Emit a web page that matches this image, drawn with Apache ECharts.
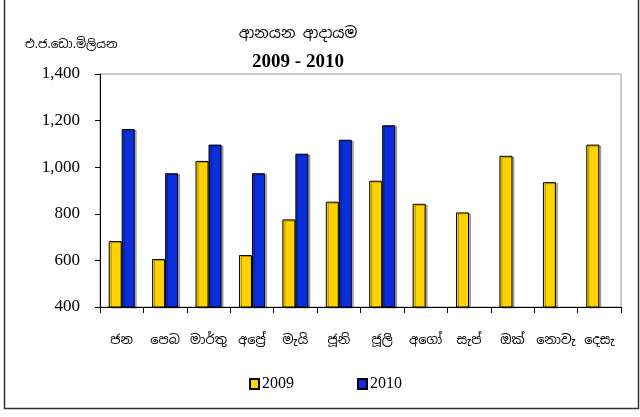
<!DOCTYPE html>
<html>
<head>
<meta charset="utf-8">
<script src="https://cdn.jsdelivr.net/npm/echarts@6/dist/echarts.min.js"></script>
<style>
  html, body { margin: 0; padding: 0; background: #fff; }
  #chartDiv { width: 640px; height: 417px; }
</style>
</head>
<body>
<div id="chartDiv"></div>
<script>
// මාස (categories)
var months = ['ජන', 'පෙබ', 'මාර්තු', 'අප්‍රේ', 'මැයි', 'ජූනි', 'ජූලි', 'අගෝ', 'සැප්', 'ඔක්', 'නොවැ', 'දෙසැ'];
// ආනයන ආදායම - එ.ජ.ඩො.මිලියන
var imp2009 = [683, 606, 1027, 623, 776, 852, 942, 843, 806, 1049, 936, 1097];
var imp2010 = [1164, 974, 1097, 974, 1058, 1118, 1180, null, null, null, null, null];
var yTicks = [400, 600, 800, 1000, 1200, 1400];

var serif = '"Liberation Serif", "Times New Roman", serif';
var sinhala = '"Noto Sans Sinhala", "Iskoola Pota", sans-serif';

var myChart = echarts.init(document.getElementById('chartDiv'));

var barStyle = function (color) {
    return {
        color: color,
        borderColor: '#000',
        borderWidth: 1,
        shadowColor: 'rgba(0,0,0,0.3)',
        shadowOffsetX: 2,
        shadowOffsetY: 1,
        shadowBlur: 0
    };
};

var option = {
    backgroundColor: '#fff',
    animation: false,
    title: [{
        text: 'ආනයන ආදායම',
        left: 293,
        top: 21,
        textAlign: 'center',
        textStyle: { fontFamily: sinhala, fontSize: 15, fontWeight: 'normal', color: '#000' }
    }, {
        text: '2009 - 2010',
        left: 293,
        top: 48,
        textAlign: 'center',
        textStyle: { fontFamily: serif, fontSize: 19, fontWeight: 'bold', color: '#000' }
    }],
    legend: {
        left: 244,
        top: 371,
        itemWidth: 9,
        itemHeight: 10,
        itemGap: 63,
        icon: 'rect',
        textStyle: { fontFamily: serif, fontSize: 16, color: '#000', padding: [0, 0, 0, -2] },
        data: ['2009', '2010']
    },
    graphic: [{
        type: 'rect',
        shape: { x: 4.5, y: -5, width: 634, height: 413.5 },
        style: { fill: null, stroke: '#333', lineWidth: 1.5 },
        silent: true
    }, {
        type: 'text',
        left: 25,
        top: 39,
        style: { text: 'එ.ජ.ඩො.මිලියන', font: '12px ' + sinhala, fill: '#000' }
    }],
    grid: {
        left: 100,
        right: 19,
        top: 74,
        bottom: 110,
        show: true,
        borderColor: '#999',
        borderWidth: 1
    },
    xAxis: {
        type: 'category',
        data: months,
        axisLine: { lineStyle: { color: '#000', width: 1 } },
        axisTick: { show: true, alignWithLabel: false, length: 6, lineStyle: { color: '#000' } },
        axisLabel: { interval: 0, margin: 27, fontFamily: sinhala, fontSize: 13, color: '#000' }
    },
    yAxis: {
        type: 'value',
        min: yTicks[0],
        max: yTicks[yTicks.length - 1],
        interval: 200,
        axisLine: { show: true, lineStyle: { color: '#000', width: 1 } },
        axisTick: { show: true, length: 5, lineStyle: { color: '#000' } },
        splitLine: { show: false },
        axisLabel: {
            margin: 20,
            fontFamily: serif,
            fontSize: 17,
            color: '#000',
            formatter: function (v) { return v.toLocaleString('en-US'); }
        }
    },
    series: [{
        name: '2009',
        type: 'bar',
        data: imp2009,
        barWidth: 13,
        barGap: '0%',
        itemStyle: barStyle('#FFD200')
    }, {
        name: '2010',
        type: 'bar',
        data: imp2010,
        barWidth: 13,
        itemStyle: barStyle('#0A2EDC')
    }]
};

myChart.setOption(option);
</script>
</body>
</html>
